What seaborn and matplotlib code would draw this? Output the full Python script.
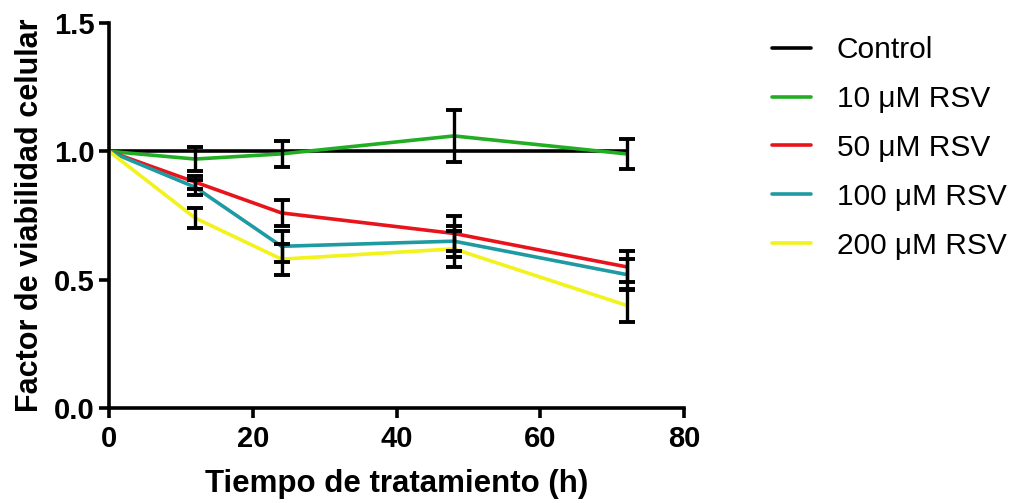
import pandas as pd
import seaborn as sns
import matplotlib.pyplot as plt

# Data (mean +/- error)
hours = [0, 12, 24, 48, 72]
series_names = ["Control", "10 μM RSV", "50 μM RSV", "100 μM RSV", "200 μM RSV"]
control = [1.0, 1.0, 1.0, 1.0, 1.0]
rsv10 = [1.0, 0.97, 0.99, 1.06, 0.99]
rsv50 = [1.0, 0.88, 0.76, 0.68, 0.55]
rsv100 = [1.0, 0.86, 0.63, 0.65, 0.52]
rsv200 = [1.0, 0.74, 0.58, 0.62, 0.40]
err_control = [0, 0, 0, 0, 0]
err10 = [0, 0.045, 0.05, 0.10, 0.06]
err50 = [0, 0.025, 0.05, 0.07, 0.06]
err100 = [0, 0.03, 0.06, 0.06, 0.06]
err200 = [0, 0.04, 0.06, 0.07, 0.065]
colors = ["#000000", "#22AE22", "#E8141B", "#1E9AA2", "#F2F21C"]

means = [control, rsv10, rsv50, rsv100, rsv200]
errs = [err_control, err10, err50, err100, err200]

rows = []
for name, m, e in zip(series_names, means, errs):
    for h, v, s in zip(hours, m, e):
        rows.append({"Tiempo": h, "Valor": v, "Error": s, "Serie": name})
df = pd.DataFrame(rows)

sns.set_theme(style="ticks")
plt.rcParams['font.family'] = ['Liberation Sans', 'DejaVu Sans']
plt.rcParams['text.color'] = 'black'
plt.rcParams['axes.labelcolor'] = 'black'

fig = plt.figure(figsize=(10.18, 5.03), dpi=100)
ax = fig.add_axes([109 / 1018, 1 - 408 / 503, 575 / 1018, 385 / 503])

sns.lineplot(data=df, x="Tiempo", y="Valor", hue="Serie", hue_order=series_names,
             palette=colors, linewidth=2.6, ax=ax, legend=False)

# error bars (black, capped)
for name in series_names:
    sub = df[(df["Serie"] == name) & (df["Error"] > 0)]
    if len(sub):
        ax.errorbar(sub["Tiempo"], sub["Valor"], yerr=sub["Error"], fmt="none",
                    ecolor="black", elinewidth=2.4, capsize=6, capthick=2.8, zorder=5)

ax.set_xlim(0, 80)
ax.set_ylim(0, 1.5)
ax.set_xticks([0, 20, 40, 60, 80])
ax.set_yticks([0.0, 0.5, 1.0, 1.5])
ax.set_yticklabels(["0.0", "0.5", "1.0", "1.5"])
for side in ["left", "bottom"]:
    ax.spines[side].set_linewidth(2.6)
    ax.spines[side].set_color("black")
sns.despine(ax=ax)
ax.tick_params(axis="both", width=2.6, length=7, labelsize=21, colors="black",
               direction="out")
ax.tick_params(axis="x", pad=5)
for lbl in ax.get_xticklabels() + ax.get_yticklabels():
    lbl.set_fontweight("bold")
ax.set_xlabel("Tiempo de tratamiento (h)", fontsize=22.5, fontweight="bold", labelpad=12)
ax.set_ylabel("Factor de viabilidad celular", fontsize=22, fontweight="bold", labelpad=6)

handles = [plt.Line2D([], [], color=c, linewidth=2.6) for c in colors]
fig.legend(handles, series_names, loc="upper left", bbox_to_anchor=(0.744, 0.958),
           frameon=False, fontsize=21.5, handlelength=1.3, handletextpad=0.85,
           labelspacing=0.7, borderpad=0)

fig.savefig("out.png", dpi=100)
